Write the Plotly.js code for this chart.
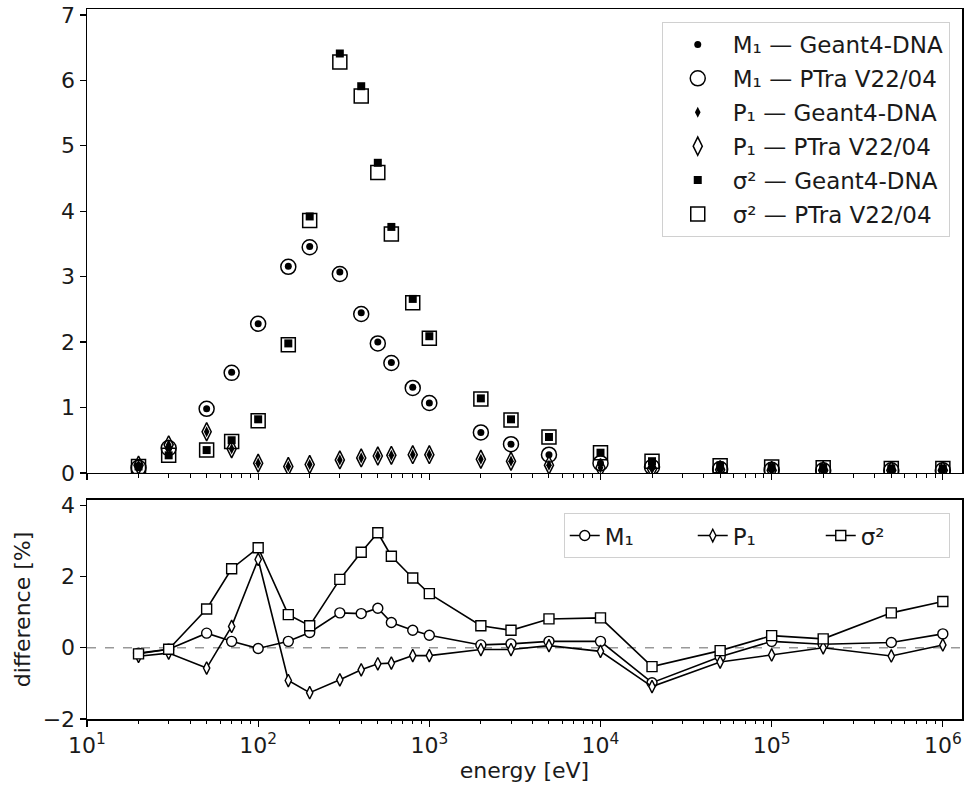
<!DOCTYPE html>
<html>
<head>
<meta charset="utf-8">
<script src="https://cdn.plot.ly/plotly-3.0.1.min.js"></script>
<style>html,body{margin:0;padding:0;background:#fff;}#plot{width:965px;height:787px;}</style>
</head>
<body>
<div id="plot"></div>
<script>
// energies [eV]
const energy = [20,30,50,70,100,150,200,300,400,500,600,800,1000,2000,3000,5000,1e4,2e4,5e4,1e5,2e5,5e5,1e6];

// top panel values
const m1_g4   = [0.08,0.38,0.98,1.54,2.28,3.16,3.46,3.07,2.45,2.00,1.69,1.31,1.07,0.62,0.44,0.28,0.15,0.09,0.06,0.05,0.04,0.04,0.04];
const m1_ptra = [0.08,0.38,0.98,1.53,2.28,3.15,3.45,3.04,2.43,1.98,1.68,1.30,1.07,0.62,0.44,0.28,0.15,0.09,0.06,0.05,0.04,0.04,0.04];
const p1_g4   = [0.12,0.43,0.63,0.37,0.15,0.10,0.13,0.20,0.23,0.26,0.27,0.28,0.28,0.21,0.18,0.12,0.08,0.06,0.05,0.04,0.04,0.04,0.04];
const p1_ptra = [0.12,0.43,0.63,0.37,0.15,0.10,0.13,0.20,0.23,0.26,0.27,0.28,0.28,0.21,0.18,0.12,0.08,0.06,0.05,0.04,0.04,0.04,0.04];
const s2_g4   = [0.10,0.27,0.35,0.50,0.82,1.98,3.92,6.41,5.91,4.74,3.76,2.66,2.09,1.14,0.82,0.55,0.31,0.18,0.11,0.09,0.08,0.07,0.07];
const s2_ptra = [0.10,0.27,0.35,0.48,0.80,1.96,3.86,6.28,5.76,4.59,3.65,2.60,2.06,1.13,0.81,0.55,0.31,0.18,0.11,0.09,0.08,0.07,0.07];

// bottom panel differences [%]
const diff_m1 = [-0.15,-0.04,0.41,0.18,-0.02,0.18,0.43,0.98,0.96,1.11,0.71,0.49,0.35,0.08,0.11,0.18,0.18,-0.98,-0.25,0.18,0.10,0.15,0.39];
const diff_p1 = [-0.24,-0.15,-0.57,0.60,2.48,-0.92,-1.26,-0.90,-0.62,-0.45,-0.43,-0.22,-0.22,-0.05,-0.05,0.06,-0.10,-1.09,-0.40,-0.20,0.00,-0.23,0.08];
const diff_s2 = [-0.17,-0.04,1.09,2.22,2.81,0.93,0.62,1.92,2.68,3.23,2.57,1.96,1.52,0.62,0.49,0.81,0.84,-0.53,-0.08,0.34,0.25,0.98,1.30];

// tick labels
const xTickVals = [10,100,1000,1e4,1e5,1e6];
const xTickText = ['10<sup>1</sup>','10<sup>2</sup>','10<sup>3</sup>','10<sup>4</sup>','10<sup>5</sup>','10<sup>6</sup>'];
const yTopTicks = [0,1,2,3,4,5,6,7];
const yBotTickVals = [-2,0,2,4];
const yBotTickText = ['\u22122','0','2','4'];

const legendTop = ['M\u2081 \u2014 Geant4-DNA','M\u2081 \u2014 PTra V22/04','P\u2081 \u2014 Geant4-DNA','P\u2081 \u2014 PTra V22/04','\u03c3\u00b2 \u2014 Geant4-DNA','\u03c3\u00b2 \u2014 PTra V22/04'];
const legendBot = ['M\u2081','P\u2081','\u03c3\u00b2'];

const minorTicks = [];
for (let k = 1; k <= 6; k++) for (let d = 2; d <= 9; d++) minorTicks.push(d * Math.pow(10, k));

const FONT = 'DejaVu Sans, sans-serif';
const K = '#000';
const TXT = '#1a1a1a';

function topTrace(y, name, symbol, size, open, rank) {
  return {
    x: energy, y: y, name: name, type: 'scatter', mode: 'markers',
    xaxis: 'x', yaxis: 'y', legend: 'legend', legendgroup: 'g' + rank, legendrank: rank,
    marker: open
      ? {symbol: symbol, size: size, color: 'rgba(0,0,0,0)', line: {color: K, width: 1.5}}
      : {symbol: symbol, size: size, color: K, line: {width: 0}}
  };
}
function botTrace(y, name, symbol, size) {
  return {
    x: energy, y: y, name: name, type: 'scatter', mode: 'lines+markers',
    xaxis: 'x2', yaxis: 'y2', legend: 'legend2',
    line: {color: K, width: 1.6},
    marker: {symbol: symbol, size: size, color: '#fff', line: {color: K, width: 1.4}}
  };
}

const data = [
  topTrace(m1_ptra, legendTop[1], 'circle', 15, true, 2),
  topTrace(p1_ptra, legendTop[3], 'diamond-tall', 13, true, 4),
  topTrace(s2_ptra, legendTop[5], 'square', 14, true, 6),
  topTrace(m1_g4, legendTop[0], 'circle', 7, false, 1),
  topTrace(p1_g4, legendTop[2], 'diamond-tall', 8, false, 3),
  topTrace(s2_g4, legendTop[4], 'square', 8, false, 5),
  botTrace(diff_m1, legendBot[0], 'circle', 10),
  botTrace(diff_p1, legendBot[1], 'diamond-tall', 9),
  botTrace(diff_s2, legendBot[2], 'square', 10)
];

const axisCommon = {
  showline: true, linecolor: K, linewidth: 1.5, mirror: true,
  ticks: 'outside', ticklen: 6, tickwidth: 1.3, tickcolor: K,
  showgrid: false, zeroline: false,
  tickfont: {family: FONT, size: 22, color: TXT}
};

const layout = {
  width: 965, height: 787,
  margin: {l: 87, r: 3, t: 9, b: 68},
  paper_bgcolor: '#fff', plot_bgcolor: '#fff',
  font: {family: FONT, size: 22, color: TXT},
  xaxis: Object.assign({}, axisCommon, {
    type: 'log', range: [1, 6.112], domain: [0, 1], anchor: 'y',
    tickmode: 'array', tickvals: xTickVals, ticktext: xTickText, showticklabels: false,
    minor: {tickmode: 'array', tickvals: minorTicks, ticks: 'outside', ticklen: 3.5, tickwidth: 1, tickcolor: K, showgrid: false}
  }),
  yaxis: Object.assign({}, axisCommon, {
    range: [0, 7.09], domain: [0.3465, 1], anchor: 'x',
    tickmode: 'array', tickvals: yTopTicks
  }),
  xaxis2: Object.assign({}, axisCommon, {
    type: 'log', range: [1, 6.112], domain: [0, 1], anchor: 'y2', matches: 'x',
    tickmode: 'array', tickvals: xTickVals, ticktext: xTickText,
    minor: {tickmode: 'array', tickvals: minorTicks, ticks: 'outside', ticklen: 3.5, tickwidth: 1, tickcolor: K, showgrid: false},
    title: {text: 'energy [eV]', font: {family: FONT, size: 22, color: TXT}, standoff: 4}
  }),
  yaxis2: Object.assign({}, axisCommon, {
    range: [-2, 4.15], domain: [0, 0.3085], anchor: 'x2',
    tickmode: 'array', tickvals: yBotTickVals, ticktext: yBotTickText,
    title: {text: 'difference [%]', font: {family: FONT, size: 22, color: TXT}, standoff: 6}
  }),
  shapes: [{
    type: 'line', xref: 'x2 domain', yref: 'y2', x0: 0, x1: 1, y0: 0, y1: 0,
    line: {color: '#999', width: 1.6, dash: 'dash'}, layer: 'below'
  }],
  legend: {
    x: 0.986, y: 0.9817, xanchor: 'right', yanchor: 'top',
    bgcolor: '#fff', bordercolor: '#d0d0d0', borderwidth: 1,
    font: {family: FONT, size: 23, color: TXT},
    traceorder: 'grouped', tracegroupgap: 1, itemsizing: 'trace', itemwidth: 60
  },
  legend2: {
    x: 0.986, y: 0.290, xanchor: 'right', yanchor: 'top', orientation: 'h',
    bgcolor: '#fff', bordercolor: '#d0d0d0', borderwidth: 1,
    font: {family: FONT, size: 23, color: TXT},
    entrywidth: 83
  },
  showlegend: true
};

Plotly.newPlot('plot', data, layout, {displayModeBar: false, staticPlot: true});
</script>
</body>
</html>
